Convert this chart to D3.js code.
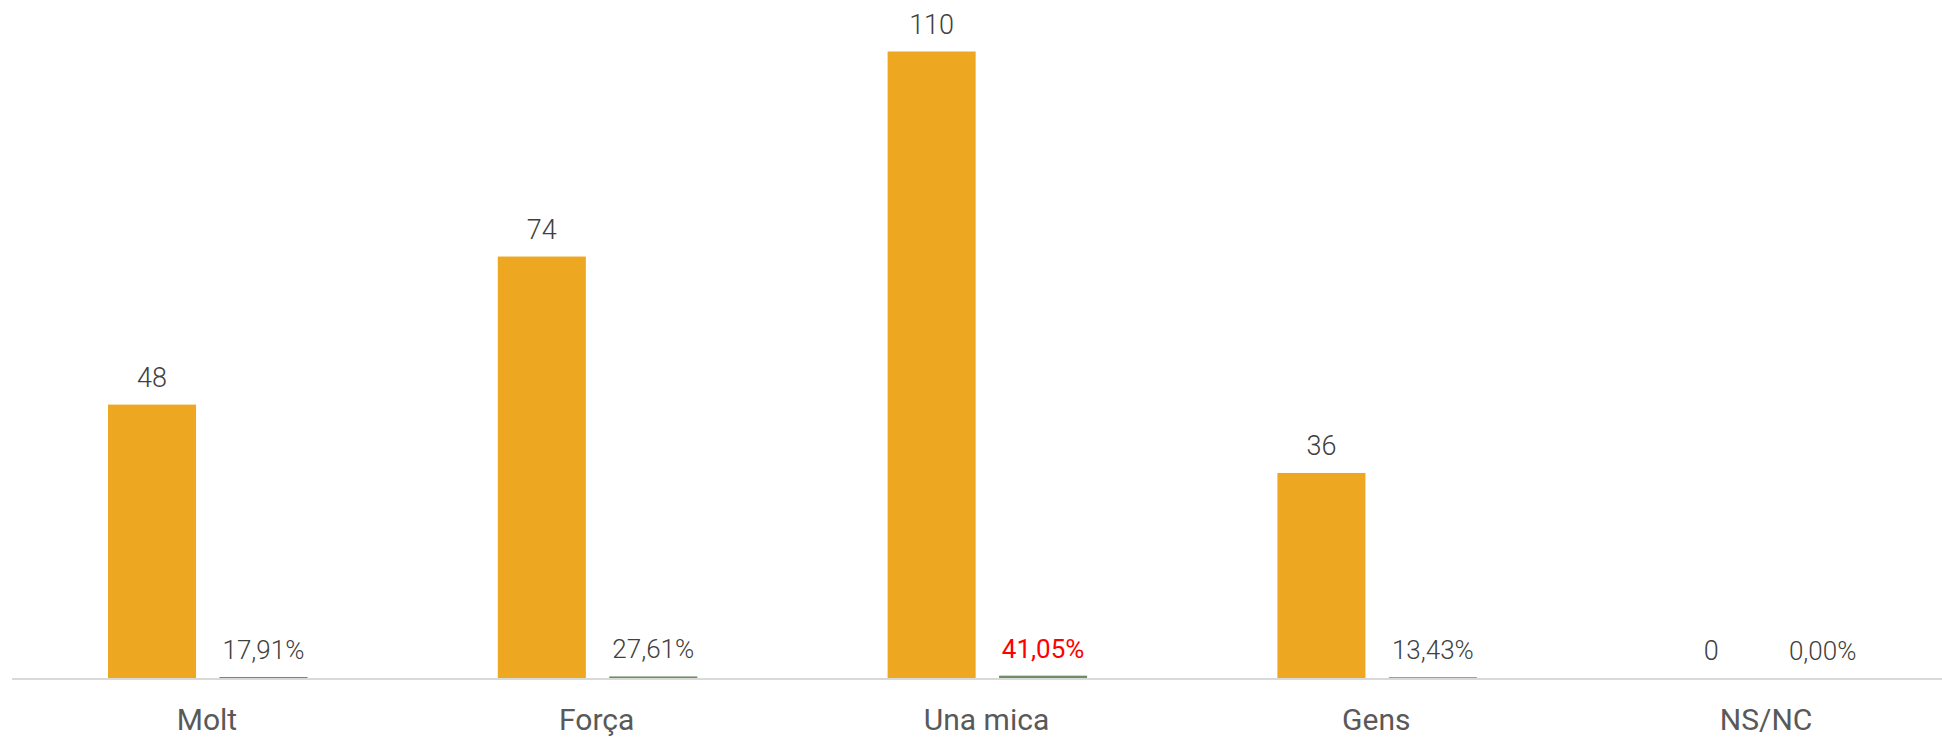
<!DOCTYPE html>
<html>
<head>
<meta charset="utf-8">
<script src="https://cdn.jsdelivr.net/npm/d3@7"></script>
<style>
  html, body { margin: 0; padding: 0; background: #fff; }
  svg { display: block; }
</style>
</head>
<body>
<svg id="chart" width="1942" height="738"></svg>
<script>
const categories = ["Molt", "Força", "Una mica", "Gens", "NS/NC"];
const counts = [48, 74, 110, 36, 0];
const shares = [0.1791, 0.2761, 0.4105, 0.1343, 0.0];
const shareLabels = ["17,91%", "27,61%", "41,05%", "13,43%", "0,00%"];
const highlight = [false, false, true, false, false];

const svg = d3.select("#chart");
const W = 1942, H = 738;
const baseY = 678;

const x = d3.scaleBand().domain(categories).range([12, 12 + 5 * 389.8]).paddingInner(0).paddingOuter(0);
const inner = d3.scaleBand().domain(["count", "share"]).range([96, 295.5]).paddingInner(0.21);
const y = d3.scaleLinear().domain([0, 110]).range([baseY, 51.5]);

// count bars
svg.append("g").selectAll("rect").data(categories).join("rect")
  .attr("x", (d) => x(d) + inner("count"))
  .attr("width", inner.bandwidth())
  .attr("y", (d, i) => y(counts[i]))
  .attr("height", (d, i) => baseY - y(counts[i]))
  .attr("fill", "#eea720");

// share bars (plotted on same scale, nearly flat)
svg.append("g").selectAll("rect").data(categories).join("rect")
  .attr("x", (d) => x(d) + inner("share"))
  .attr("width", inner.bandwidth())
  .attr("y", (d, i) => y(shares[i]))
  .attr("height", (d, i) => baseY - y(shares[i]))
  .attr("fill", "#6f8f62");

// axis line
svg.append("line")
  .attr("x1", 12).attr("x2", W)
  .attr("y1", baseY + 1).attr("y2", baseY + 1)
  .attr("stroke", "#d9d9d9").attr("stroke-width", 2);

// value labels
svg.append("g").selectAll("text").data(categories).join("text")
  .attr("x", (d) => x(d) + inner("count") + inner.bandwidth() / 2)
  .attr("y", (d, i) => y(counts[i]) - 18)
  .attr("text-anchor", "middle")
  .attr("font-family", "Roboto, sans-serif")
  .attr("font-weight", 300)
  .attr("font-size", 27)
  .attr("fill", "#404040")
  .text((d, i) => counts[i]);

// share labels
svg.append("g").selectAll("text").data(categories).join("text")
  .attr("x", (d) => x(d) + inner("share") + inner.bandwidth() / 2)
  .attr("y", (d, i) => y(shares[i]) - 18)
  .attr("text-anchor", "middle")
  .attr("font-family", "Roboto, sans-serif")
  .attr("font-weight", (d, i) => highlight[i] ? 400 : 300)
  .attr("font-size", 26)
  .attr("fill", (d, i) => highlight[i] ? "#ff0000" : "#404040")
  .text((d, i) => shareLabels[i]);

// category axis labels
svg.append("g").selectAll("text").data(categories).join("text")
  .attr("x", (d) => x(d) + x.bandwidth() / 2)
  .attr("y", 730)
  .attr("text-anchor", "middle")
  .attr("font-family", "Roboto, sans-serif")
  .attr("font-size", 30)
  .attr("fill", "#595959")
  .text((d) => d);
</script>
</body>
</html>
